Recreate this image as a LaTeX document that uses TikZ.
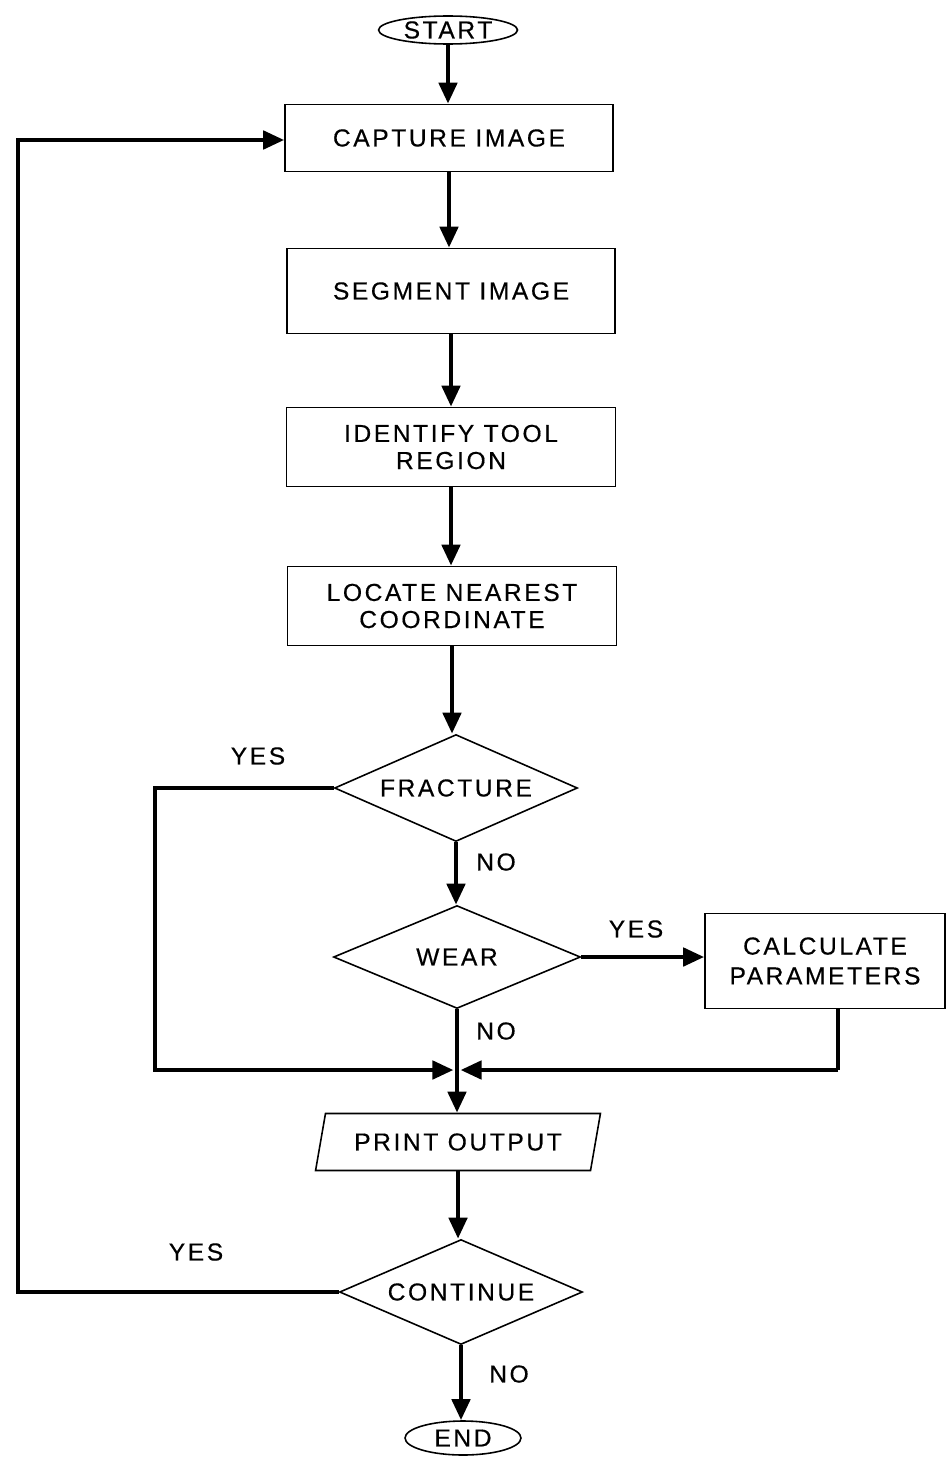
\documentclass[tikz,border=0pt]{standalone}
\usepackage{fontspec}
\setmainfont{Liberation Sans}[LetterSpace=10.5,FakeBold=0.4]
\usetikzlibrary{shapes.geometric,arrows.meta}
\begin{document}
\begin{tikzpicture}[x=0.02cm,y=-0.02cm,
  every node/.style={font=\fontsize{14}{15.4}\selectfont},
  boxnode/.style={draw,line width=0.9pt,rectangle,inner sep=0pt,align=center},
  decision/.style={draw,line width=0.9pt,diamond,aspect=2.3,inner sep=0pt,align=center},
  terminal/.style={draw,line width=0.9pt,ellipse,inner sep=0pt},
  iobox/.style={draw,line width=0.9pt,trapezium,trapezium left angle=66,trapezium right angle=114,trapezium stretches=true,inner sep=0pt},
  conn/.style={line width=2.6pt,-{Triangle[length=0.42cm,width=0.36cm]}},
  plain/.style={line width=2.6pt},
  lbl/.style={inner sep=0pt}]
\useasboundingbox (0,0) rectangle (947,1460);
\node[terminal,minimum width=2.78cm,minimum height=0.56cm] (start) at (448,30) {START};
\node[boxnode,minimum width=6.56cm,minimum height=1.34cm] (cap) at (449,138) {CAPTURE IMAGE};
\node[boxnode,minimum width=6.56cm,minimum height=1.7cm] (seg) at (451,291) {SEGMENT IMAGE};
\node[boxnode,minimum width=6.58cm,minimum height=1.58cm] (ident) at (451,447) {IDENTIFY TOOL\\REGION};
\node[boxnode,minimum width=6.58cm,minimum height=1.58cm] (loc) at (452,606) {LOCATE NEAREST\\COORDINATE};
\node[decision,minimum width=4.86cm,minimum height=2.14cm] (frac) at (456,788) {FRACTURE};
\node[decision,minimum width=4.94cm,minimum height=2.06cm] (wear) at (457,957) {WEAR};
\node[boxnode,minimum width=4.8cm,minimum height=1.9cm,font=\fontsize{14}{17}\selectfont] (calc) at (825,961) {CALCULATE\\PARAMETERS};
\node[iobox,minimum width=5.7cm,minimum height=1.14cm] (print) at (458,1142) {PRINT OUTPUT};
\node[decision,minimum width=4.86cm,minimum height=2.1cm] (cont) at (461,1292) {CONTINUE};
\node[terminal,minimum width=2.32cm,minimum height=0.68cm] (end) at (463,1438) {END};

\coordinate (j) at (457,1070);
\coordinate (fl) at (155,1070);
\coordinate (cb) at (838,1008);
\coordinate (cr) at (838,1070);
\coordinate (lc) at (18,140);

\draw[conn] (start.south) -- (start.south |- cap.north);
\draw[conn] (cap.south) -- (cap.south |- seg.north);
\draw[conn] (seg.south) -- (seg.south |- ident.north);
\draw[conn] (ident.south) -- (ident.south |- loc.north);
\draw[conn] (loc.south) -- (loc.south |- frac.north);
\draw[conn] (frac.south) -- (frac.south |- wear.north);
\draw[conn] (wear.east) -- (wear.east -| calc.west);
\draw[conn] (wear.south) -- (wear.south |- print.north);
\draw[conn,shorten >=2pt] (frac.west) -| (fl) -- (j);
\draw[plain] (cb) -- (cr);
\draw[conn,shorten >=2pt] (cr) -- (j);
\draw[conn] (print.south) -- (print.south |- cont.north);
\draw[conn] (cont.west) -| (lc) -- (lc -| cap.west);
\draw[conn] (cont.south) -- (cont.south |- end.north);

\node[lbl] (y1) at (258,756) {YES};
\node[lbl] (n1) at (496,862) {NO};
\node[lbl] (y2) at (636,929) {YES};
\node[lbl] (n2) at (496,1031) {NO};
\node[lbl] (y3) at (196,1252) {YES};
\node[lbl] (n3) at (509,1374) {NO};
\end{tikzpicture}
\end{document}
